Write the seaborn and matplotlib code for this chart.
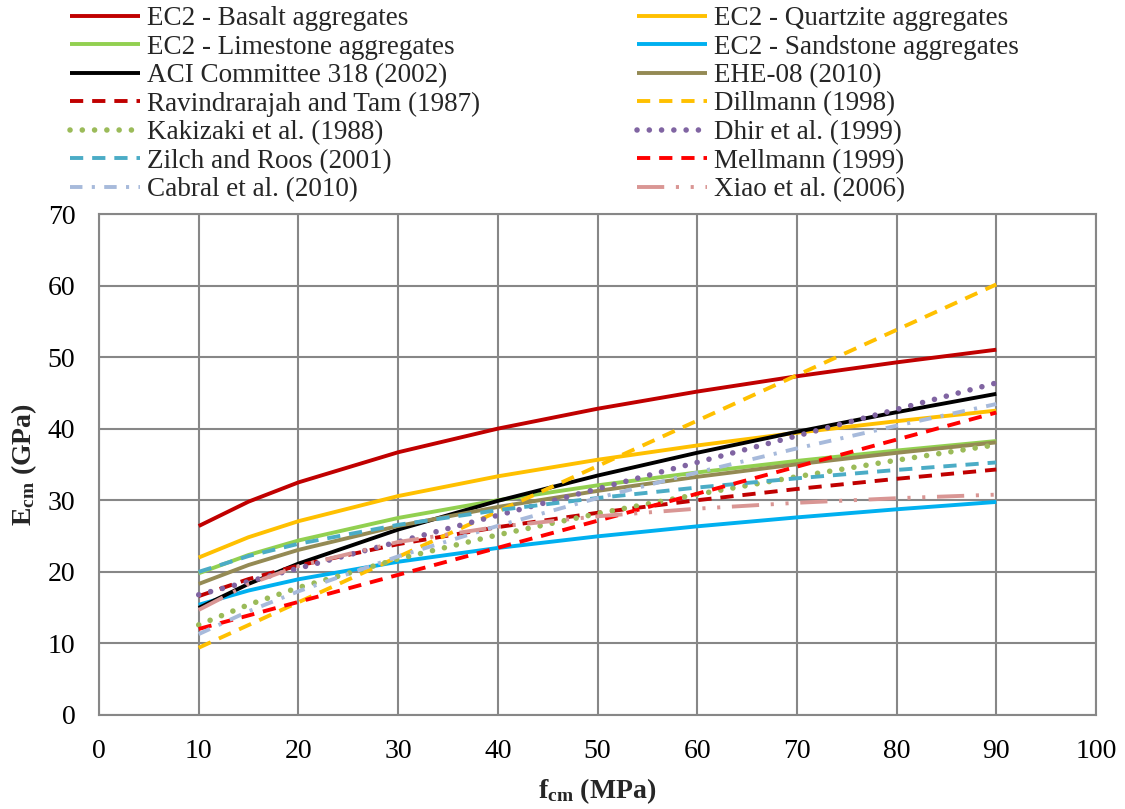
import matplotlib
matplotlib.use("Agg")
import matplotlib.pyplot as plt
import seaborn as sns
import pandas as pd

# ---------------- data ----------------
fcm = [10, 15, 20, 30, 40, 50, 60, 70, 80, 90]

ec2_basalt    = [26.40, 29.81, 32.50, 36.71, 40.01, 42.79, 45.19, 47.33, 49.27, 51.04]
ec2_quartzite = [22.00, 24.84, 27.08, 30.59, 33.35, 35.66, 37.66, 39.44, 41.05, 42.53]
ec2_limestone = [19.80, 22.36, 24.38, 27.53, 30.01, 32.09, 33.89, 35.50, 36.95, 38.28]
ec2_sandstone = [15.40, 17.39, 18.96, 21.41, 23.34, 24.96, 26.36, 27.61, 28.74, 29.77]
aci_318       = [14.96, 18.32, 21.15, 25.91, 29.92, 33.45, 36.64, 39.57, 42.31, 44.87]
ehe_08        = [18.31, 20.96, 23.07, 26.41, 29.07, 31.31, 33.28, 35.03, 36.63, 38.09]
ravindrarajah = [16.61, 18.99, 20.88, 23.87, 26.25, 28.25, 30.01, 31.58, 33.00, 34.30]
dillmann      = [9.40, 12.57, 15.75, 22.09, 28.44, 34.78, 41.12, 47.47, 53.81, 60.16]
kakizaki      = [12.59, 15.41, 17.80, 21.80, 25.17, 28.14, 30.83, 33.30, 35.60, 37.76]
dhir          = [16.80, 18.65, 20.50, 24.20, 27.90, 31.60, 35.30, 39.00, 42.70, 46.40]
zilch_roos    = [20.00, 22.21, 23.92, 26.57, 28.62, 30.32, 31.78, 33.07, 34.24, 35.29]
mellmann      = [12.02, 13.91, 15.80, 19.58, 23.36, 27.14, 30.92, 34.70, 38.48, 42.26]
cabral        = [11.30, 14.49, 17.28, 22.16, 26.43, 30.31, 33.89, 37.25, 40.42, 43.45]
xiao          = [14.68, 18.27, 20.81, 24.17, 26.30, 27.76, 28.83, 29.65, 30.29, 30.79]

labels = [
    "EC2 - Basalt aggregates", "EC2 - Quartzite aggregates",
    "EC2 - Limestone aggregates", "EC2 - Sandstone aggregates",
    "ACI Committee 318 (2002)", "EHE-08 (2010)",
    "Ravindrarajah and Tam (1987)", "Dillmann (1998)",
    "Kakizaki et al. (1988)", "Dhir et al. (1999)",
    "Zilch and Roos (2001)", "Mellmann (1999)",
    "Cabral et al. (2010)", "Xiao et al. (2006)",
]
series = [ec2_basalt, ec2_quartzite, ec2_limestone, ec2_sandstone, aci_318, ehe_08,
          ravindrarajah, dillmann, kakizaki, dhir, zilch_roos, mellmann, cabral, xiao]

x_ticks = list(range(0, 101, 10))
y_ticks = list(range(0, 71, 10))

# ---------------- styles ----------------
LW = 2.8
DOT_LW = 4.0
DASH = (0, (3.4, 2.3))
styles = [
    dict(color="#C00000", lw=LW, ls="-"),
    dict(color="#FFC000", lw=LW, ls="-"),
    dict(color="#92D050", lw=LW, ls="-"),
    dict(color="#00B0F0", lw=LW, ls="-"),
    dict(color="#000000", lw=LW, ls="-"),
    dict(color="#948A54", lw=LW, ls="-"),
    dict(color="#C00000", lw=LW, ls=DASH),
    dict(color="#FFC000", lw=LW, ls=DASH),
    dict(color="#9BBB59", lw=DOT_LW, ls=(0, (0.01, 2.2)), cap="round"),
    dict(color="#8064A2", lw=DOT_LW, ls=(0, (0.01, 2.2)), cap="round"),
    dict(color="#4BACC6", lw=LW, ls=DASH),
    dict(color="#FF0000", lw=LW, ls=DASH),
    dict(color="#A7BADB", lw=LW, ls=(0, (3.2, 2.4, 0.8, 2.4))),
    dict(color="#D99694", lw=LW, ls=(0, (7, 3, 0.8, 3, 0.8, 3))),
]

sns.set_style("white")
plt.rcParams["font.family"] = ["Liberation Serif", "DejaVu Serif"]
plt.rcParams["mathtext.fontset"] = "custom"
plt.rcParams["mathtext.rm"] = "Liberation Serif"
plt.rcParams["mathtext.bf"] = "Liberation Serif:bold"
plt.rcParams["mathtext.it"] = "Liberation Serif:italic"

fig = plt.figure(figsize=(11.25, 8.09), dpi=100)
ax = fig.add_axes([99 / 1125, 1 - 715 / 809, (1096 - 99) / 1125, (715 - 214) / 809])

GRID = "#878787"
handles = []
for lab, vals, st in zip(labels, series, styles):
    df = pd.DataFrame({"fcm": fcm, "E": vals})
    sns.lineplot(data=df, x="fcm", y="E", ax=ax, color=st["color"], linewidth=st["lw"],
                 linestyle=st["ls"], label=lab, legend=False,
                 solid_capstyle=st.get("cap", "butt"), dash_capstyle=st.get("cap", "butt"),
                 zorder=3)
    handles.append(ax.lines[-1])

ax.set_xlim(0, 100)
ax.set_ylim(0, 70)
ax.set_xticks(x_ticks)
ax.set_yticks(y_ticks)
ax.grid(True, color=GRID, lw=1.5, zorder=0)
ax.set_axisbelow(True)
for s in ax.spines.values():
    s.set_color(GRID)
    s.set_linewidth(1.5)
ax.tick_params(axis="both", direction="out", length=6, width=1.5, color=GRID,
               labelsize=20, labelcolor="black", pad=11)

ax.set_xlabel(r"$\mathbf{f_{cm}}$ (MPa)", fontsize=20, fontweight="bold")
ax.set_ylabel(r"$\mathbf{E_{cm}}$ (GPa)", fontsize=20, fontweight="bold")
ax.xaxis.set_label_coords(0.5, -0.122)
ax.yaxis.set_label_coords(-0.06, 0.5)

left_idx = [0, 2, 4, 6, 8, 10, 12]
right_idx = [1, 3, 5, 7, 9, 11, 13]
common = dict(frameon=False, fontsize=19.5, handlelength=2.58, handletextpad=0.25,
              labelspacing=0.13, borderaxespad=0, borderpad=0, loc="upper left")
fig.legend([handles[i] for i in left_idx], [labels[i] for i in left_idx],
           bbox_to_anchor=(70 / 1125, 1 - 6 / 809), **common)
fig.legend([handles[i] for i in right_idx], [labels[i] for i in right_idx],
           bbox_to_anchor=(637 / 1125, 1 - 6 / 809), **common)

fig.savefig("out.png", dpi=100, facecolor="white")
